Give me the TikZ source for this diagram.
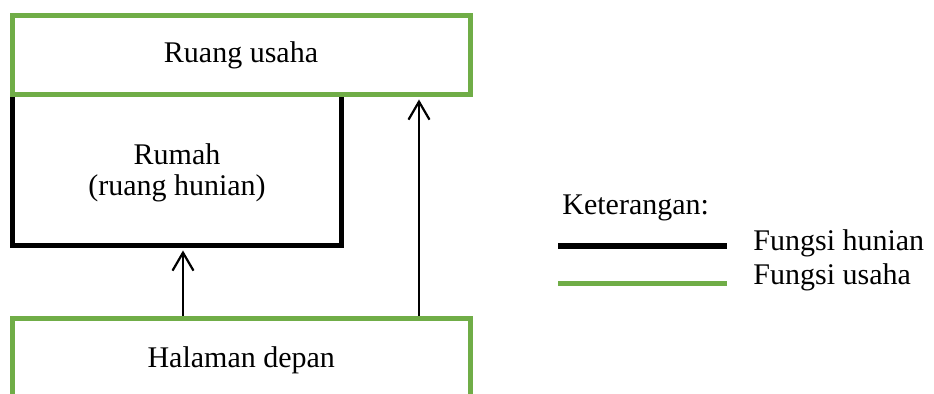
\documentclass[tikz,border=0pt]{standalone}
\usepackage{fontspec}
\setmainfont{Liberation Serif}
\usetikzlibrary{arrows.meta, positioning, calc}
\definecolor{usahagreen}{RGB}{112,173,71}

\begin{document}
\begin{tikzpicture}[
    x=0.5pt, y=-0.5pt,
    % Define styles
    box/.style={rectangle, line width=2.5pt, align=center, inner sep=0pt, font=\fontsize{15}{15.5}\selectfont},
    hunibox/.style={box, draw=black},
    usahabox/.style={box, draw=usahagreen, fill=white},
    label/.style={font=\fontsize{15}{15}\selectfont, inner sep=0pt, anchor=west},
    arrow/.style={-{Straight Barb[length=9pt, width=10.5pt, line width=1.1pt]}, line width=1.1pt, shorten >=1.25pt},
    ]

    \clip (0,0) rectangle (934,394);

    % Main nodes
    \node[hunibox, minimum width=164.25pt, minimum height=75.5pt, text depth=-1pt] (rumah) at (177,170) {Rumah\\(ruang hunian)};
    \node[usahabox, minimum width=229pt, minimum height=39.5pt] (ruang) at (241,55) {Ruang usaha};
    \node[usahabox, minimum width=228.75pt, minimum height=41.5pt] (halaman) at (241.25,360) {Halaman depan};

    % Arrows
    \coordinate (k1) at (183,0);
    \coordinate (k2) at (419,0);
    \draw[arrow] (k1 |- halaman.north) -- (k1 |- rumah.south);
    \draw[arrow] (k2 |- halaman.north) -- (k2 |- ruang.south);

    % Legend
    \node[label] (ket) at (562,208) {Keterangan:};
    \node[label] (huni) at (753,243) {Fungsi hunian};
    \node[label] (usaha) at (753,277) {Fungsi usaha};
    \coordinate (h1) at (558,246.5);
    \coordinate (h2) at (727,246.5);
    \coordinate (u1) at (558,283.5);
    \coordinate (u2) at (727,283.5);
    \draw[line width=3pt, black] (h1) -- (h2);
    \draw[line width=2.5pt, usahagreen] (u1) -- (u2);

\end{tikzpicture}
\end{document}
